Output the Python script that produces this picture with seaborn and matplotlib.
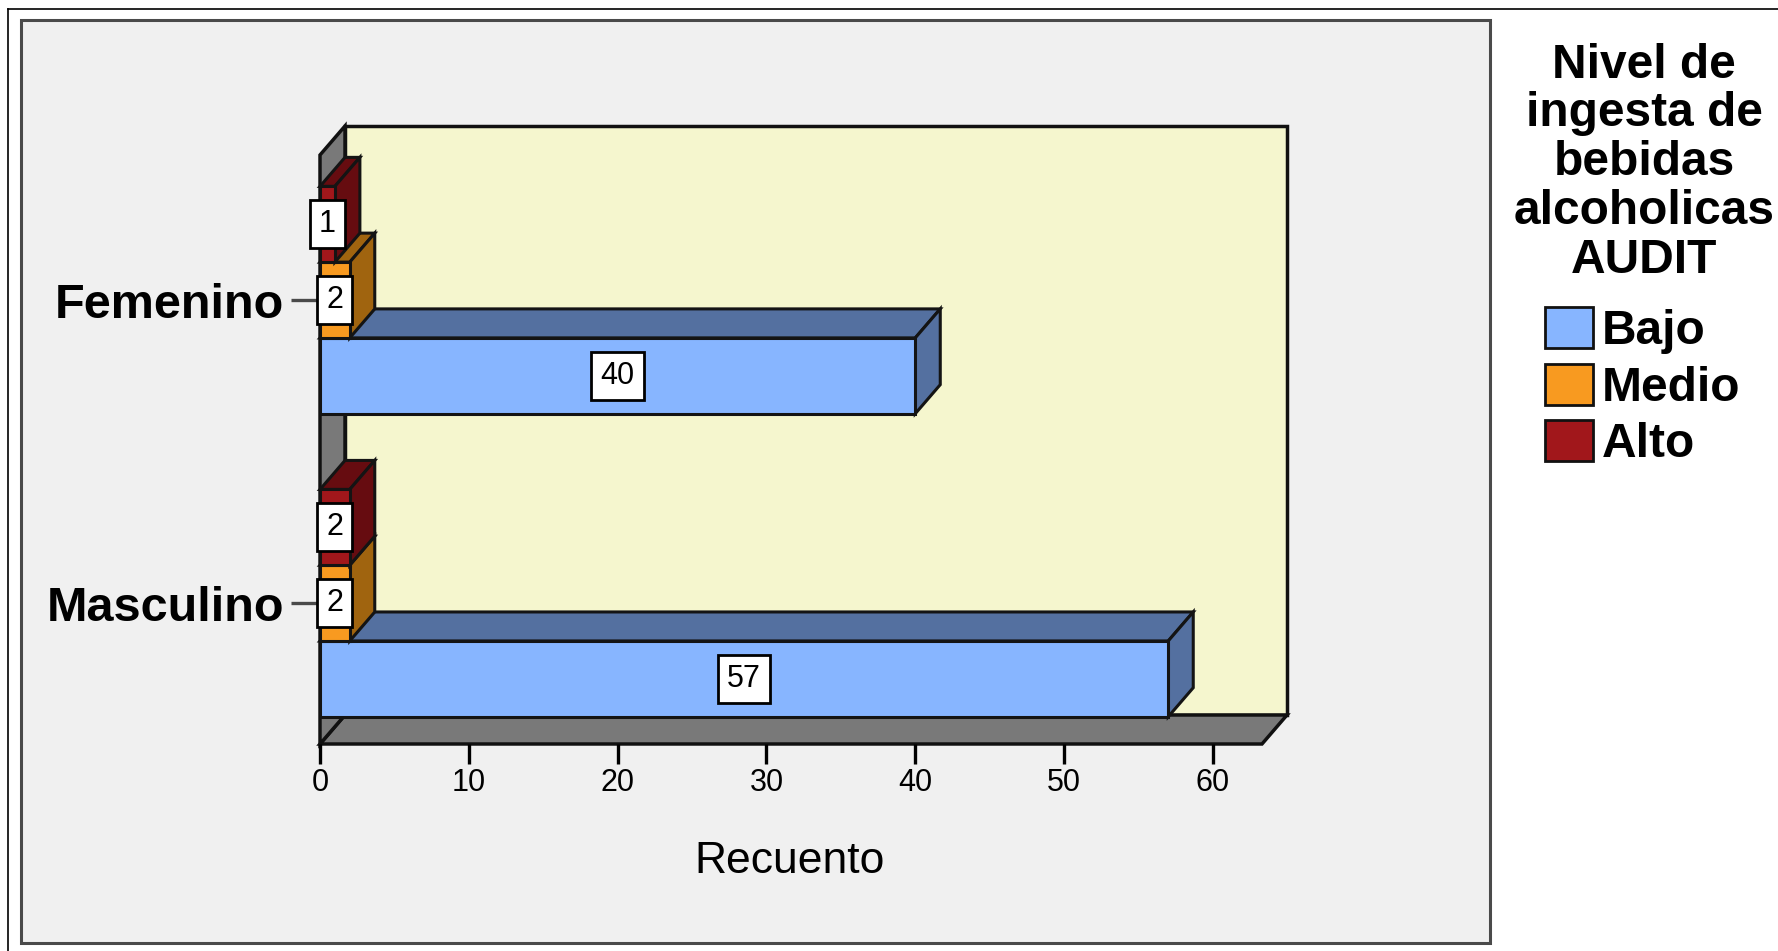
import numpy as np
import pandas as pd
import matplotlib
matplotlib.use("Agg")
import matplotlib.pyplot as plt
from matplotlib.patches import Polygon, Rectangle, Patch
from matplotlib.lines import Line2D
import seaborn as sns

# Recuento por sexo y nivel de ingesta (AUDIT)
sexos = ["Femenino", "Masculino"]
niveles = ["Bajo", "Medio", "Alto"]
bajo = [40, 57]
medio = [2, 2]
alto = [1, 2]

x_ticks = [0, 10, 20, 30, 40, 50, 60]
eje_x = "Recuento"
titulo_leyenda = "Nivel de\ningesta de\nbebidas\nalcoholicas\nAUDIT"

color_frente = {"Bajo": "#87B5FF", "Medio": "#F89A20", "Alto": "#A1171B"}
color_lado = {"Bajo": "#5470A0", "Medio": "#A0640F", "Alto": "#660C10"}

df = pd.DataFrame({
    "Sexo": sexos * len(niveles),
    "Nivel": [n for n in niveles for _ in sexos],
    "Recuento": bajo + medio + alto,
})

plt.rcParams["font.family"] = ["Liberation Sans", "DejaVu Sans"]

W, H, DPI = 1778, 951, 100
fig = plt.figure(figsize=(W / DPI, H / DPI), dpi=DPI, facecolor="white")


def caja_px(l, t, r, b):
    return [l / W, 1 - b / H, (r - l) / W, (b - t) / H]


# marco exterior y panel gris
fig.add_artist(Line2D([8 / W, 8 / W], [0, 1 - 9 / H], color="black", lw=1.2,
                      transform=fig.transFigure, zorder=-3))
fig.add_artist(Line2D([8 / W, 1], [1 - 9 / H, 1 - 9 / H], color="black", lw=1.2,
                      transform=fig.transFigure, zorder=-3))
l, b, w, h = caja_px(21, 20, 1490, 943)
fig.add_artist(Rectangle((l, b), w, h, transform=fig.transFigure, fc="#F0F0F0",
                         ec="#4A4A4A", lw=2.2, zorder=-2))

ax = fig.add_axes(caja_px(320, 155, 1262, 744))
ax.patch.set_visible(False)

# de arriba a abajo dentro de cada grupo
orden_dibujo = ["Alto", "Medio", "Bajo"]
sns.barplot(data=df, x="Recuento", y="Sexo", hue="Nivel", order=sexos,
            hue_order=orden_dibujo, palette=color_frente, orient="h",
            width=0.75, saturation=1, errorbar=None, edgecolor="#141414",
            linewidth=2.2, legend=False, ax=ax)

XMAX = 63.3
Y_TOP, Y_BOT = -0.4785, 1.465
ax.set_xlim(0, XMAX)
ax.set_ylim(Y_BOT, Y_TOP)

# vector de profundidad (25 px a la derecha, 29 px hacia arriba) en unidades de datos
dx, dy = ax.transData.inverted().transform(ax.transData.transform((0, 0)) + np.array([25, 29]))


def fondo(pts):
    return [(x + dx, y + dy) for x, y in pts]


ax.add_patch(Polygon(fondo([(0, Y_TOP), (XMAX, Y_TOP), (XMAX, Y_BOT), (0, Y_BOT)]),
                     fc="#F5F6CE", ec="#111111", lw=2.5, clip_on=False, zorder=1))
ax.add_patch(Polygon([(0, Y_BOT), (XMAX, Y_BOT)] + fondo([(XMAX, Y_BOT), (0, Y_BOT)]),
                     fc="#797979", ec="#111111", lw=2.5, clip_on=False, zorder=1.2))
ax.add_patch(Polygon([(0, Y_BOT), (0, Y_TOP)] + fondo([(0, Y_TOP), (0, Y_BOT)]),
                     fc="#797979", ec="#111111", lw=2.5, clip_on=False, zorder=1.2))

barras = []
for cont, nivel in zip(ax.containers, orden_dibujo):
    for rect, val in zip(cont.patches, cont.datavalues):
        barras.append((rect, nivel, val))
# las barras más bajas se dibujan primero
barras.sort(key=lambda item: -item[0].get_y())

for i, (rect, nivel, val) in enumerate(barras):
    x0 = rect.get_x()
    x1 = x0 + rect.get_width()
    ya = rect.get_y()
    yb = ya + rect.get_height()
    z = 3 + 2 * i
    ax.add_patch(Polygon([(x0, ya), (x1, ya), (x1 + dx, ya + dy), (x0 + dx, ya + dy)],
                         fc=color_lado[nivel], ec="#141414", lw=2.2, zorder=z,
                         clip_on=False))
    ax.add_patch(Polygon([(x1, ya), (x1, yb), (x1 + dx, yb + dy), (x1 + dx, ya + dy)],
                         fc=color_lado[nivel], ec="#141414", lw=2.2, zorder=z,
                         clip_on=False))
    rect.set_zorder(z + 1)
    ax.text((x0 + x1) / 2, (ya + yb) / 2, f"{val:g}", ha="center", va="center",
            fontsize=22, zorder=100,
            bbox=dict(boxstyle="square,pad=0.3", fc="white", ec="black", lw=2.0))

ax.set_xticks(x_ticks)
ax.tick_params(axis="x", length=14.5, width=2.4, color="black", pad=3, labelsize=22)
ax.tick_params(axis="y", length=21, width=2.4, color="#4A4A4A", pad=5, labelsize=35)
for t in ax.get_yticklabels():
    t.set_fontweight("bold")
ax.set_ylabel("")
ax.set_xlabel(eje_x, fontsize=32, va="baseline")
ax.xaxis.set_label_coords(0.499, -(873 - 744) / 589)
for s in ax.spines.values():
    s.set_visible(False)

# leyenda: título en varias líneas y muestras de color
fig.text(1644 / W, 1 - 273 / H, titulo_leyenda, ha="center", va="baseline",
         multialignment="center", fontsize=34.5, fontweight="bold", linespacing=1.11)
manejadores = [Patch(fc=color_frente[n], ec="#111111", lw=2.0) for n in niveles]
fig.legend(manejadores, niveles, loc="upper left",
           bbox_to_anchor=(1545 / W, 1 - 307 / H), frameon=False,
           borderpad=0, borderaxespad=0, handlelength=1.0, handleheight=0.94,
           handletextpad=0.18, labelspacing=0.2,
           prop={"size": 34.5, "weight": "bold"})

fig.savefig("out.png", dpi=DPI, facecolor="white")
